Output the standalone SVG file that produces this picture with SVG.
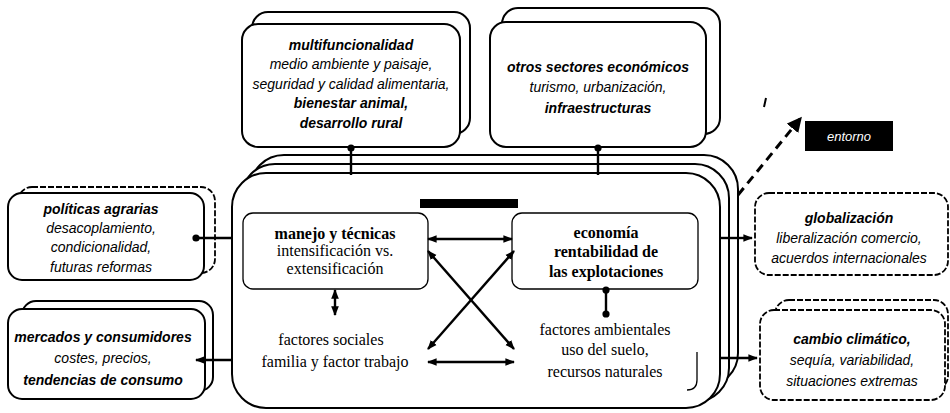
<svg xmlns="http://www.w3.org/2000/svg" width="950" height="413" viewBox="0 0 950 413">
<defs>
<marker id="ah" viewBox="0 0 10 10" refX="9" refY="5" markerWidth="4" markerHeight="4" orient="auto-start-reverse"><path d="M0,1 L10,5 L0,9 z" fill="#000"/></marker>
<marker id="dot" viewBox="0 0 10 10" refX="5" refY="5" markerWidth="3" markerHeight="3"><circle cx="5" cy="5" r="5" fill="#000"/></marker>
<marker id="big" viewBox="0 0 10 10" refX="8" refY="5" markerWidth="5" markerHeight="5" orient="auto"><path d="M0,0 L10,5 L0,10 z" fill="#000"/></marker>
</defs>
<style>
.box{fill:#fff;stroke:#000;stroke-width:2}
.thin{fill:none;stroke:#000;stroke-width:1.3}
.dash{fill:#fff;stroke:#000;stroke-width:1.8;stroke-dasharray:6 2}
.o{font-family:"Liberation Sans",Arial,sans-serif;font-style:italic;font-size:14px;text-anchor:middle;fill:#000}
.ob{font-weight:bold}
.c{font-family:"Liberation Serif","Times New Roman",serif;font-size:16px;text-anchor:middle;fill:#000}
.cb{font-weight:bold}
.ln{stroke:#000;stroke-width:2.4;fill:none}
</style>
<rect width="950" height="413" fill="#fff"/>

<g id="main">
<rect class="box" x="250" y="155" width="488" height="232" rx="34"/>
<rect class="box" x="241" y="164" width="488" height="238" rx="34"/>
<rect class="box" x="232" y="173" width="488" height="235" rx="34"/>
<rect x="420" y="199" width="98" height="9" fill="#000"/>
</g>

<g id="top-left">
<rect class="box" x="252" y="12" width="218" height="122" rx="16"/>
<rect class="box" x="242" y="24" width="218" height="123" rx="16"/>
<text class="o ob" x="351" y="50">multifuncionalidad</text>
<text class="o" x="351" y="69">medio ambiente y paisaje,</text>
<text class="o" x="351" y="89">seguridad y calidad alimentaria,</text>
<text class="o ob" x="351" y="108">bienestar animal,</text>
<text class="o ob" x="351" y="128">desarrollo rural</text>
</g>

<g id="top-right">
<rect class="box" x="502" y="8" width="218" height="126" rx="16"/>
<rect class="box" x="490" y="22" width="216" height="125" rx="16"/>
<text class="o ob" x="598" y="72">otros sectores económicos</text>
<text class="o" x="598" y="92">turismo, urbanización,</text>
<text class="o ob" x="598" y="113">infraestructuras</text>
</g>

<g id="entorno">
<rect x="805" y="121" width="88" height="30" fill="#000"/>
<text x="849" y="141" font-family="Liberation Sans, Arial, sans-serif" font-style="italic" font-size="13" text-anchor="middle" fill="#fff">entorno</text>
</g>

<g id="politicas">
<rect class="dash" x="18" y="187" width="197" height="86" rx="14"/>
<rect class="box" x="8" y="193" width="196" height="87" rx="14"/>
<text class="o ob" x="101" y="214">políticas agrarias</text>
<text class="o" x="101" y="233">desacoplamiento,</text>
<text class="o" x="101" y="252">condicionalidad,</text>
<text class="o" x="101" y="272">futuras reformas</text>
</g>

<g id="mercados">
<rect class="box" x="22" y="301" width="191" height="90" rx="14"/>
<rect class="box" x="8" y="309" width="197" height="90" rx="14"/>
<text class="o ob" x="103" y="342">mercados y consumidores</text>
<text class="o" x="103" y="363">costes, precios,</text>
<text class="o ob" x="103" y="385">tendencias de consumo</text>
</g>

<g id="globalizacion">
<rect class="dash" x="755" y="193" width="193" height="82" rx="14"/>
<text class="o ob" x="849" y="223" font-size="15">globalización</text>
<text class="o" x="849" y="243">liberalización comercio,</text>
<text class="o" x="849" y="263">acuerdos internacionales</text>
</g>

<g id="cambio">
<rect class="dash" x="775" y="300" width="173" height="90" rx="14"/>
<rect class="dash" x="760" y="310" width="185" height="90" rx="14"/>
<text class="o ob" x="852" y="344">cambio climático,</text>
<text class="o" x="852" y="365">sequía, variabilidad,</text>
<text class="o" x="852" y="386">situaciones extremas</text>
</g>

<g id="manejo">
<rect class="thin" x="243" y="213" width="185" height="76" rx="10"/>
<text class="c cb" x="335" y="239">manejo y técnicas</text>
<text class="c" x="335" y="256">intensificación vs.</text>
<text class="c" x="335" y="274">extensificación</text>
</g>

<g id="economia">
<rect class="thin" x="512" y="213" width="186" height="76" rx="10"/>
<text class="c cb" x="606" y="238">economía</text>
<text class="c cb" x="606" y="257">rentabilidad de</text>
<text class="c cb" x="606" y="277">las explotaciones</text>
</g>

<g id="sociales">
<text class="c" x="331" y="345">factores sociales</text>
<text class="c" x="335" y="367">familia y factor trabajo</text>
</g>

<g id="ambientales">
<path class="thin" d="M697,352 V380 q0,10 -10,10"/>
<text class="c" x="605" y="335">factores ambientales</text>
<text class="c" x="605" y="355">uso del suelo,</text>
<text class="c" x="605" y="377">recursos naturales</text>
</g>

<g id="connectors">
<line class="ln" x1="428" y1="239" x2="512" y2="239" marker-start="url(#ah)" marker-end="url(#ah)"/>
<line class="ln" x1="428" y1="251" x2="514" y2="349" marker-start="url(#ah)" marker-end="url(#ah)"/>
<line class="ln" x1="514" y1="251" x2="428" y2="349" marker-start="url(#ah)" marker-end="url(#ah)"/>
<line class="ln" x1="428" y1="362" x2="514" y2="362" marker-start="url(#ah)" marker-end="url(#ah)"/>
<line class="ln" x1="335" y1="290" x2="335" y2="315" marker-start="url(#ah)" marker-end="url(#ah)"/>
<line class="ln" x1="606" y1="290" x2="606" y2="314" marker-start="url(#dot)" marker-end="url(#dot)"/>
<line class="ln" x1="351" y1="148" x2="351" y2="175" marker-start="url(#dot)"/>
<line class="ln" x1="598" y1="148" x2="598" y2="175" marker-start="url(#dot)"/>
<line class="ln" x1="196" y1="238" x2="233" y2="238" marker-start="url(#dot)"/>
<line class="ln" x1="196" y1="360" x2="233" y2="360" marker-start="url(#ah)"/>
<line class="ln" x1="720" y1="238" x2="752" y2="238" marker-end="url(#ah)"/>
<line class="ln" x1="720" y1="358" x2="757" y2="358" marker-end="url(#ah)"/>
<line x1="738" y1="195" x2="800" y2="119" stroke="#000" stroke-width="3" stroke-dasharray="9 6" marker-end="url(#big)"/>
<line x1="766" y1="98" x2="764" y2="107" stroke="#000" stroke-width="2"/>
</g>
</svg>
